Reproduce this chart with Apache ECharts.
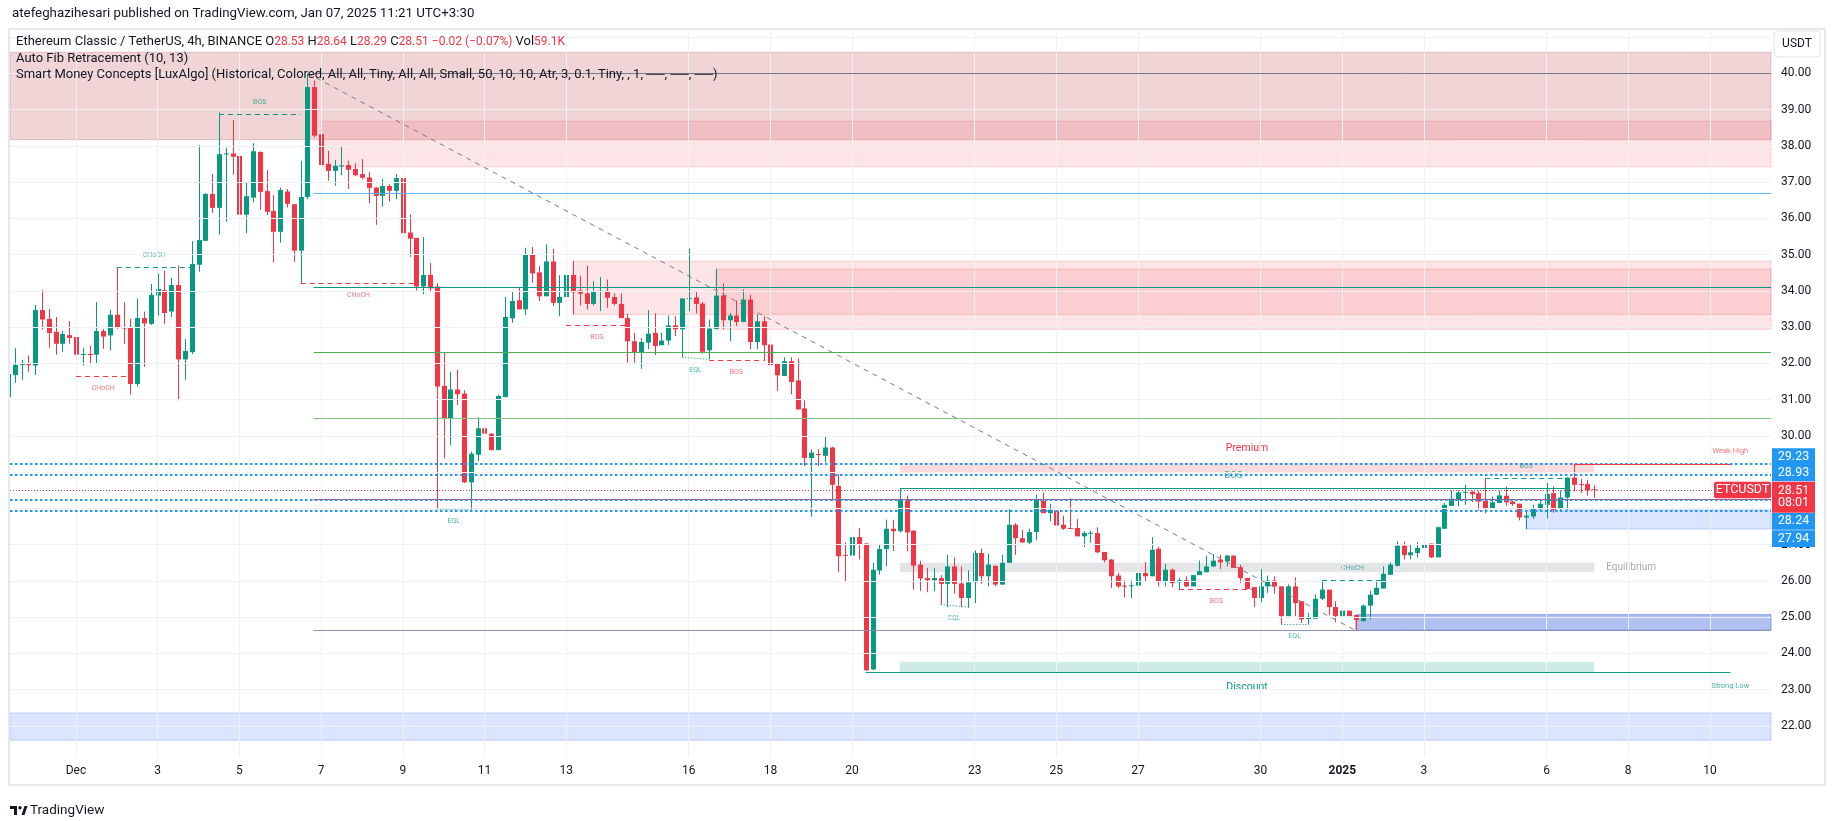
<!DOCTYPE html>
<html>
<head>
<meta charset="utf-8">
<script src="https://cdn.jsdelivr.net/npm/echarts@6/dist/echarts.min.js"></script>
<style>
html,body{margin:0;padding:0;background:#ffffff;}
#chart{width:1835px;height:821px;}
</style>
</head>
<body>
<div id="chart"></div>
<script>
// ================= DATA =================
const BAR_ORIGIN = '2024-12-01T00:00:00Z';   // bar index 0
const BAR_HOURS = 4;
const FIRST_BAR = -10;                       // index of first candle

const opens = [
31.07,31.68,31.96,31.98,31.94,33.47,33.23,32.87,32.54,32.78,
32.73,32.24,32.26,32.24,32.89,32.77,33.34,32.99,32.98,31.43,
33.25,33.09,33.87,34.02,33.43,34.16,32.11,32.31,34.72,35.38,
36.67,36.29,37.77,37.79,37.72,36.10,36.57,37.83,36.75,36.20,
35.63,36.74,36.39,35.11,36.59,39.62,38.32,37.50,37.31,37.44,
37.47,37.36,37.22,37.13,36.85,36.62,36.89,36.76,37.11,35.61,
35.46,34.12,34.44,34.12,31.38,30.49,31.28,31.17,28.72,29.48,
30.21,30.06,29.61,31.07,33.24,33.74,33.49,35.01,34.51,33.85,
34.81,33.67,33.83,34.44,34.01,33.93,33.64,33.99,34.00,33.83,
33.64,33.25,32.61,32.29,32.57,32.84,32.50,32.63,33.05,32.94,
33.79,33.82,33.65,32.36,32.95,33.87,33.19,33.32,33.14,33.76,
32.59,33.16,32.52,31.99,31.65,32.06,31.53,30.76,29.39,29.50,
29.45,29.68,28.62,26.72,26.70,27.21,27.03,23.56,26.29,26.88,
27.44,27.37,28.24,27.39,26.45,26.08,26.02,26.08,25.92,26.40,
25.93,25.53,25.96,26.77,26.13,26.42,25.90,26.50,27.55,27.18,
27.06,27.35,28.21,27.87,27.94,27.55,27.46,27.46,27.23,27.32,
27.32,26.80,26.59,26.15,25.87,25.86,25.87,26.22,26.13,26.89,
25.99,26.31,25.96,26.02,25.85,26.16,26.24,26.40,26.59,26.54,
26.70,26.38,26.08,25.83,25.53,25.85,26.01,25.85,25.03,25.85,
25.44,24.96,24.96,25.51,25.76,25.28,25.03,25.18,25.06,24.89,
25.32,25.62,25.79,26.17,26.42,26.97,26.71,26.77,26.91,27.03,
26.65,27.44,28.07,28.24,28.44,28.46,28.42,28.21,28.01,28.15,
28.35,28.19,28.13,27.75,27.78,27.98,28.10,28.42,28.01,28.30,
28.85,28.67,28.67,28.53];

const highs = [
31.75,32.42,32.10,32.22,33.61,34.02,33.50,33.28,32.89,33.17,
33.17,32.43,32.48,33.69,32.95,33.48,34.65,33.68,33.23,33.79,
33.43,34.19,34.47,34.55,34.36,34.70,32.67,35.37,38.02,36.70,
37.22,38.92,37.95,38.71,37.72,37.00,38.07,37.85,37.33,36.64,
36.84,36.81,36.39,37.58,40.00,39.80,38.72,37.86,37.61,37.99,
37.59,37.52,37.63,37.28,36.85,37.08,36.94,37.22,37.14,36.11,
35.46,35.48,34.77,34.21,32.29,31.76,31.83,31.26,29.57,30.51,
30.43,30.08,31.13,33.83,33.99,34.09,35.19,35.21,34.68,35.28,
35.16,34.43,34.64,34.83,34.42,34.70,34.27,34.38,34.31,33.93,
33.93,33.37,32.84,32.70,33.47,33.38,32.84,33.32,33.30,33.79,
35.17,33.98,33.69,33.21,34.61,34.20,33.39,33.73,34.04,33.89,
33.35,33.30,32.66,32.02,32.17,32.17,32.14,30.98,29.63,29.63,
30.00,29.70,28.95,27.06,27.60,27.46,27.05,26.50,27.00,27.69,
27.69,28.56,28.35,27.39,26.56,26.36,26.36,26.16,26.72,26.65,
26.40,26.29,26.84,26.89,26.75,26.42,26.72,27.98,27.60,27.41,
27.44,28.38,28.44,28.13,27.94,27.80,28.28,27.71,27.37,27.39,
27.48,26.80,26.61,26.22,26.02,26.02,26.50,26.52,27.21,26.94,
26.47,26.34,26.08,26.13,26.17,26.56,26.70,26.74,26.72,26.72,
26.70,26.45,26.08,25.83,26.33,26.15,26.13,25.85,25.90,26.10,
25.44,25.12,25.63,26.02,25.76,25.44,25.30,25.18,25.06,25.35,
25.73,25.99,26.40,26.51,27.09,27.09,27.02,27.07,27.18,27.03,
27.50,28.15,28.50,28.49,28.65,28.49,28.49,28.83,28.33,28.49,
28.61,28.22,28.13,27.96,28.10,28.24,28.70,28.61,28.49,28.86,
29.22,28.81,28.79,28.64];

const lows = [
30.98,31.46,31.55,31.77,31.68,32.93,32.43,32.24,32.32,32.54,
31.65,31.94,32.01,32.01,32.40,32.35,32.95,32.54,31.14,31.36,
31.91,33.06,33.32,33.09,33.28,30.98,31.55,32.26,34.53,35.38,
36.15,35.55,35.91,37.20,35.36,35.59,36.44,36.24,36.09,34.78,
35.33,36.30,34.80,34.22,36.53,38.23,37.43,37.04,36.90,37.19,
36.81,37.16,37.08,36.42,35.82,36.32,36.46,36.53,35.22,34.94,
34.01,33.91,33.96,27.98,29.38,29.74,30.85,28.70,27.96,29.31,
28.87,29.60,29.60,31.07,33.12,33.49,33.33,34.22,33.72,33.85,
33.58,33.30,33.06,33.35,33.60,33.49,33.60,33.44,33.53,33.60,
33.25,32.02,32.02,31.85,32.39,32.23,32.50,32.51,32.75,32.17,
33.44,33.38,32.27,32.11,32.94,32.94,32.61,33.03,33.14,32.39,
32.39,32.06,31.95,31.24,31.65,31.15,30.73,29.17,27.77,29.17,
29.27,28.21,26.24,25.99,26.35,26.59,23.52,23.54,26.17,26.40,
26.82,27.34,26.82,25.76,25.72,25.69,25.72,25.35,25.28,25.65,
25.28,25.26,25.39,25.92,25.85,25.85,25.90,26.50,26.72,27.06,
27.00,27.12,27.87,27.64,27.41,27.41,27.44,27.23,26.94,27.05,
26.77,26.51,25.81,25.81,25.55,25.53,25.78,25.99,26.13,25.85,
25.85,25.83,25.74,25.83,25.85,26.16,26.24,26.38,26.33,26.40,
26.36,25.94,25.78,25.28,25.41,25.67,25.65,24.80,25.03,25.03,
24.84,24.80,24.96,25.47,25.06,24.86,25.03,25.03,24.64,24.89,
24.94,25.62,25.79,26.17,26.40,26.59,26.59,26.65,26.65,26.63,
26.65,27.44,28.07,28.06,28.10,28.17,27.94,27.87,28.01,28.15,
28.07,28.07,27.67,27.43,27.71,27.96,27.72,27.88,27.90,27.96,
28.47,28.42,28.35,28.29];

const closes = [
31.71,31.96,31.98,31.97,33.47,33.21,32.84,32.54,32.81,32.70,
32.24,32.26,32.25,32.89,32.74,33.34,32.98,32.97,31.43,33.25,
33.10,33.89,34.05,33.39,34.16,32.11,32.34,34.74,35.40,36.67,
36.29,37.77,37.79,37.70,36.10,36.61,37.85,36.73,36.18,35.63,
36.78,36.40,35.11,36.59,39.62,38.28,37.47,37.31,37.45,37.46,
37.34,37.19,37.12,36.84,36.62,36.89,36.76,37.11,35.59,35.44,
34.12,34.44,34.07,31.36,30.49,31.28,31.15,28.72,29.51,30.21,
30.06,29.61,31.10,33.28,33.72,33.49,35.01,34.48,33.85,34.81,
33.67,33.83,34.44,33.96,33.92,33.64,33.98,34.00,33.81,33.64,
33.25,32.61,32.31,32.59,32.82,32.48,32.63,33.05,32.94,33.79,
33.80,33.64,32.32,32.96,33.87,33.19,33.32,33.14,33.76,32.59,
33.16,32.50,31.95,31.67,32.06,31.49,30.73,29.39,29.54,29.48,
29.68,28.65,26.68,26.70,27.21,27.00,23.54,26.31,26.88,27.44,
27.37,28.24,27.34,26.42,26.07,26.02,26.08,25.92,26.40,25.92,
25.53,25.96,26.77,26.13,26.45,25.90,26.50,27.55,27.18,27.06,
27.35,28.26,27.87,27.96,27.53,27.44,27.44,27.23,27.32,27.33,
26.79,26.57,26.13,25.85,25.86,25.88,26.22,26.13,26.86,25.99,
26.31,25.94,26.02,25.85,26.16,26.27,26.40,26.56,26.51,26.70,
26.36,26.08,25.78,25.53,25.85,26.01,25.85,25.03,25.85,25.39,
24.94,24.98,25.51,25.76,25.28,25.03,25.18,25.03,24.92,25.32,
25.62,25.81,26.20,26.45,26.97,26.71,26.79,26.91,27.00,26.65,
27.48,28.10,28.27,28.44,28.46,28.39,28.19,28.01,28.17,28.36,
28.17,28.12,27.75,27.80,27.98,28.13,28.40,27.96,28.30,28.85,
28.65,28.66,28.50,28.51];

// axis ticks
const yTicks = [22,23,24,25,26,27,28,29,30,31,32,33,34,35,36,37,38,39,40];
const yGridValues = [22,23,24,25,26,27,28,29,30,31,32,33,34,35,36,37,38,39,40,41];
const xTickDates = ['2024-12-01','2024-12-03','2024-12-05','2024-12-07','2024-12-09','2024-12-11','2024-12-13','2024-12-16','2024-12-18','2024-12-20','2024-12-23','2024-12-25','2024-12-27','2024-12-30','2025-01-01','2025-01-03','2025-01-06','2025-01-08','2025-01-10'];
const xTickLabels = ['Dec','3','5','7','9','11','13','16','18','20','23','25','27','30','2025','3','6','8','10'];

// last price / levels
const symbolName = 'ETCUSDT';
const lastPrice = 28.51;
const countdown = '08:01';
const keyLevels = [29.23, 28.93, 28.24, 27.94];
const priceTags = [29.23, 28.93, 28.51, 28.24, 27.94];

// Auto Fib Retracement
const fibLevels = [40.00, 36.68, 34.11, 32.31, 30.50, 28.26, 24.63];
const fibStartBar = 34.9;
const fibTrend = [[34, 40.00], [188, 24.63]];

// order blocks: [fromBar (null = left edge), toBar (null = right edge), top, bottom, kind]
const zones = [
  [null, null, 40.58, 38.17, 'supplyStrong'],
  [36,   null, 38.68, 37.42, 'supply'],
  [73,   null, 34.82, 33.35, 'supply'],
  [94,   null, 34.60, 32.94, 'supply'],
  [188,  null, 25.07, 24.64, 'demandStrong'],
  [213,  null, 27.96, 27.43, 'demand'],
  [null, null, 22.36, 21.61, 'demand']
];
// premium / equilibrium / discount: [fromBar, toBar, top, bottom, name]
const pdZones = [
  [121, 223, 29.25, 28.97, 'Premium'],
  [121, 223, 26.50, 26.24, 'Equilibrium'],
  [121, 223, 23.77, 23.47, 'Discount']
];
// structure breaks: [fromBar, toBar, price, label, direction (+1 bull, -1 bear), scope]
const structures = [
  [21, 33, 38.88, 'BOS', 1, 'internal'],
  [6, 17, 34.65, 'CHoCH', 1, 'internal'],
  [0, 8, 31.65, 'CHoCH', -1, 'internal'],
  [33, 50, 34.22, 'CHoCH', -1, 'internal'],
  [72, 81, 33.06, 'BOS', -1, 'internal'],
  [93, 101, 32.08, 'BOS', -1, 'internal'],
  [162, 173, 25.76, 'BOS', -1, 'internal'],
  [183, 192, 26.02, 'CHoCH', 1, 'internal'],
  [207, 219, 28.83, 'BOS', 1, 'internal'],
  [121, 219, 28.56, 'BOS', 1, 'swing']
];
// equal lows: [bar1, price1, bar2, price2]
const equalLows = [
  [53, 27.98, 58, 27.96],
  [89, 32.17, 93, 32.11],
  [127, 25.35, 131, 25.28],
  [177, 24.80, 181, 24.80]
];
// strong / weak swing points: [fromBar, toBar, price, label, direction]
const swingPoints = [
  [220, 243, 29.22, 'Weak High', -1],
  [116, 243, 23.47, 'Strong Low', 1]
];

// ================= VIEW / STYLE =================
const X_MIN = -9.69, X_MAX = 248.97;
const Y_MIN = 21.145, Y_MAX = 41.194;
const UP = '#089981', DOWN = '#f23645';
const FONT = 'Roboto, "Liberation Sans", Arial, sans-serif';
const ZONE_STYLE = {
  supplyStrong: {color:'rgba(178,40,51,0.2)', borderColor:'rgba(178,40,51,0.22)'},
  supply:       {color:'rgba(242,54,69,0.13)', borderColor:'rgba(242,54,69,0.2)'},
  demandStrong: {color:'rgba(41,80,220,0.36)', borderColor:'rgba(41,80,220,0.5)'},
  demand:       {color:'rgba(41,98,255,0.17)', borderColor:'rgba(41,98,255,0.25)'},
  Premium:      {color:'rgba(242,54,69,0.18)', borderColor:'rgba(0,0,0,0)'},
  Equilibrium:  {color:'rgba(120,123,134,0.2)', borderColor:'rgba(0,0,0,0)'},
  Discount:     {color:'rgba(8,153,129,0.2)', borderColor:'rgba(0,0,0,0)'}
};
const FIB_COLORS = ['#787b86','#64b5f6','#089981','#4caf50','#81c784','#f23645','#8c92b8'];
const TAG_OFFSETS = [-7.3, -1.9, 0, 21.6, 28.1];

function barOf(d){ return (Date.parse(d + 'T00:00:00Z') - Date.parse(BAR_ORIGIN)) / (BAR_HOURS * 3600000); }
const xTickBars = xTickDates.map(barOf);
const edge = (v, fallback) => (v === null ? fallback : v);

const candleData = opens.map((o, k) => [FIRST_BAR + k, o, closes[k], lows[k], highs[k]]);

// ---- zones as markArea
const areaData = [];
zones.forEach(z => {
  const st = ZONE_STYLE[z[4]];
  areaData.push([{xAxis: edge(z[0], X_MIN), yAxis: z[2], itemStyle:{color: st.color, borderColor: st.borderColor, borderWidth: 1}},
                 {xAxis: edge(z[1], X_MAX), yAxis: z[3]}]);
});
pdZones.forEach(z => {
  const st = ZONE_STYLE[z[4]];
  areaData.push([{xAxis: z[0], yAxis: z[2], itemStyle:{color: st.color, borderWidth: 0}},
                 {xAxis: z[1], yAxis: z[3]}]);
});

// ---- lines as markLine
const lineData = [];
function seg(x1, y1, x2, y2, style){ lineData.push([{coord:[x1, y1], lineStyle: style}, {coord:[x2, y2]}]); }
fibLevels.forEach((p, k) => seg(fibStartBar, p, X_MAX, p, {color: FIB_COLORS[k], width: 1, type: 'solid'}));
seg(fibTrend[0][0], fibTrend[0][1], fibTrend[1][0], fibTrend[1][1], {color:'#787b86', width:1, type:[5,5]});
keyLevels.forEach(p => seg(X_MIN, p, X_MAX, p, {color:'#2196f3', width:2, type:[2.5,2.5]}));
seg(X_MIN, lastPrice, X_MAX, lastPrice, {color: DOWN, width:1, type:[1,2]});
structures.forEach(s => {
  const col = s[4] > 0 ? UP : DOWN;
  seg(s[0], s[2], s[1], s[2], {color: col, width: 1, type: s[5] === 'swing' ? 'solid' : [5,4]});
});
equalLows.forEach(e => seg(e[0], e[1], e[2], e[3], {color: 'rgba(8,153,129,0.7)', width: 1, type: [1.5,1.5]}));
swingPoints.forEach(s => seg(s[0], s[2], s[1], s[2], {color: s[4] > 0 ? UP : DOWN, width: 1, type:'solid'}));

// ---- annotation texts
const ann = [];
structures.forEach(s => {
  const swing = s[5] === 'swing';
  ann.push({x:(s[0]+s[1])/2, y:s[2], text:s[3], color: s[4] > 0 ? 'rgba(8,153,129,0.75)' : 'rgba(242,54,69,0.7)',
            size: swing ? 9.5 : 7, dy: s[4] > 0 ? -12 : 12, dx:0, align:'center'});
});
equalLows.forEach(e => ann.push({x:(e[0]+e[2])/2, y:(e[1]+e[3])/2, text:'EQL', color:'rgba(8,153,129,0.75)', size:7, dy:12, dx:0, align:'center'}));
swingPoints.forEach(s => ann.push({x:s[1], y:s[2], text:s[3], color: s[4] > 0 ? 'rgba(8,153,129,0.75)' : 'rgba(242,54,69,0.7)', size:7.5, dy: s[4] > 0 ? 13 : -12.6, dx:0, align:'center'}));
pdZones.forEach(z => {
  if (z[4] === 'Premium') ann.push({x:(z[0]+z[1])/2, y:z[2], text:z[4], color:'#f23645', size:10.5, dy:-15, dx:0, align:'center'});
  if (z[4] === 'Discount') ann.push({x:(z[0]+z[1])/2, y:z[3], text:z[4], color:'#089981', size:10.5, dy:14.5, dx:0, align:'center'});
  if (z[4] === 'Equilibrium') ann.push({x:z[1], y:(z[2]+z[3])/2, text:z[4], color:'#a6a9b2', size:10, dy:0, dx:12, align:'left'});
});

const chart = echarts.init(document.getElementById('chart'), null, {renderer:'canvas'});

const option = {
  animation: false,
  backgroundColor: '#ffffff',
  textStyle: {fontFamily: FONT},
  grid: {left: 10, right: 64, top: 30, bottom: 64, containLabel: false},
  xAxis: {
    type: 'value', min: X_MIN, max: X_MAX,
    axisLine: {show: false}, axisTick: {show: false}, splitLine: {show: false},
    axisLabel: {
      customValues: xTickBars, margin: 8, fontSize: 12, color: '#131722', fontFamily: FONT,
      formatter: v => {
        const k = xTickBars.findIndex(b => Math.abs(b - v) < 0.01);
        if (k < 0) return '';
        const t = xTickLabels[k];
        return t === '2025' ? '{b|' + t + '}' : t;
      },
      rich: {b: {fontWeight: 'bold', fontSize: 12, color: '#131722', fontFamily: FONT}}
    }
  },
  yAxis: {
    type: 'value', position: 'right', min: Y_MIN, max: Y_MAX,
    axisLine: {show: false}, axisTick: {show: false}, splitLine: {show: false},
    axisLabel: {customValues: yTicks, margin: 10, fontSize: 12, color: '#131722', fontFamily: FONT,
                formatter: v => Number(v).toFixed(2)}
  },
  series: [
    { // grid lines
      type: 'line', data: [], z: 0, silent: true,
      markLine: {silent: true, symbol: 'none', animation: false, label: {show: false},
        lineStyle: {color: '#eff1f5', width: 1, type: 'solid'},
        data: yGridValues.map(v => ({yAxis: v})).concat(xTickBars.map(b => ({xAxis: b})))}
    },
    { // zones
      type: 'line', data: [], z: 1, silent: true,
      markArea: {silent: true, animation: false, label: {show: false}, data: areaData}
    },
    { // lines
      type: 'line', data: [], z: 2, silent: true,
      markLine: {silent: true, symbol: 'none', animation: false, label: {show: false}, data: lineData}
    },
    { // candles
      type: 'custom', z: 3, clip: true, silent: true,
      data: candleData,
      encode: {x: 0, y: [1, 2, 3, 4]},
      renderItem: function (params, api) {
        const x = api.value(0), o = api.value(1), c = api.value(2), l = api.value(3), h = api.value(4);
        const pO = api.coord([x, o]), pC = api.coord([x, c]);
        const pL = api.coord([x, l]), pH = api.coord([x, h]);
        const col = c >= o ? UP : DOWN;
        const xc = Math.round(pO[0]);
        const top = Math.min(pO[1], pC[1]);
        const ht = Math.max(Math.abs(pO[1] - pC[1]), 1);
        return {type: 'group', children: [
          {type: 'line', shape: {x1: xc + 0.5, y1: pH[1], x2: xc + 0.5, y2: pL[1]}, style: {stroke: col, lineWidth: 1}},
          {type: 'rect', shape: {x: xc - 2, y: top, width: 5, height: ht}, style: {fill: col}}
        ]};
      }
    },
    { // annotation texts
      type: 'custom', z: 4, clip: false, silent: true,
      data: ann.map((a, k) => [a.x, a.y, k]),
      encode: {x: 0, y: 1},
      renderItem: function (params, api) {
        const a = ann[api.value(2)];
        const p = api.coord([api.value(0), api.value(1)]);
        return {type: 'text', x: p[0] + a.dx, y: p[1] + a.dy,
          style: {text: a.text, fill: a.color, font: a.size + 'px ' + FONT, align: a.align, verticalAlign: 'middle'}};
      }
    },
    { // price tags on the axis
      type: 'custom', z: 6, clip: false, silent: true,
      data: priceTags.map((p, k) => [X_MAX, p, k]),
      encode: {x: 0, y: 1},
      renderItem: function (params, api) {
        const k = api.value(2), price = api.value(1);
        const p = api.coord([X_MAX, price]);
        const x0 = p[0] + 1, cy = p[1] + TAG_OFFSETS[k];
        const w = 43;
        if (price === lastPrice) {
          return {type: 'group', children: [
            {type: 'rect', shape: {x: p[0] - 57, y: cy - 8.3, width: 57, height: 16.6, r: 2}, style: {fill: DOWN}},
            {type: 'text', x: p[0] - 28.5, y: cy + 0.3, style: {text: symbolName, fill: '#fff', font: '12.5px ' + FONT, align: 'center', verticalAlign: 'middle'}},
            {type: 'rect', shape: {x: x0, y: cy - 8.3, width: w, height: 31}, style: {fill: DOWN}},
            {type: 'text', x: x0 + w / 2, y: cy + 0.7, style: {text: price.toFixed(2), fill: '#fff', font: '12.5px ' + FONT, align: 'center', verticalAlign: 'middle'}},
            {type: 'text', x: x0 + w / 2, y: cy + 13.3, style: {text: countdown, fill: '#fff', font: '12.5px ' + FONT, align: 'center', verticalAlign: 'middle'}}
          ]};
        }
        return {type: 'group', children: [
          {type: 'rect', shape: {x: x0, y: cy - 8.4, width: w, height: 16.8}, style: {fill: '#2196f3'}},
          {type: 'text', x: x0 + w / 2, y: cy, style: {text: price.toFixed(2), fill: '#fff', font: '12.5px ' + FONT, align: 'center', verticalAlign: 'middle'}}
        ]};
      }
    }
  ],
  graphic: [
    {type: 'text', z: 100, x: 12, y: 14, style: {text: 'atefeghazihesari published on TradingView.com, Jan 07, 2025 11:21 UTC+3:30', fill: '#131722', font: '13.3px ' + FONT, verticalAlign: 'middle'}},
    {type: 'rect', z: 100, shape: {x: 9, y: 29, width: 1816, height: 756}, style: {fill: 'none', stroke: '#e6e8ee', lineWidth: 2}, silent: true},
    {type: 'text', z: 100, x: 16, y: 42, style: {
      text: '{n|Ethereum Classic / TetherUS, 4h, BINANCE} {n|O}{v|28.53} {n|H}{v|28.64} {n|L}{v|28.29} {n|C}{v|28.51} {v|−0.02 (−0.07%)} {n|Vol}{v|59.1K}',
      verticalAlign: 'middle', font: '12.5px ' + FONT,
      rich: {n: {fill: '#131722', font: '13px ' + FONT}, v: {fill: '#f23645', font: '12px ' + FONT}}}},
    {type: 'text', z: 100, x: 16, y: 58.5, style: {text: 'Auto Fib Retracement (10, 13)', fill: '#131722', font: '13px ' + FONT, verticalAlign: 'middle'}},
    {type: 'text', z: 100, x: 16, y: 75, style: {text: 'Smart Money Concepts [LuxAlgo] (Historical, Colored, All, All, Tiny, All, All, Small, 50, 10, 10, Atr, 3, 0.1, Tiny, , 1, ──, ──, ──)', fill: '#131722', font: '13px ' + FONT, verticalAlign: 'middle'}},
    {type: 'rect', z: 100, shape: {x: 1774, y: 31, width: 46, height: 26, r: 4}, style: {fill: '#ffffff', stroke: '#e0e3eb', lineWidth: 1}},
    {type: 'text', z: 101, x: 1797, y: 44, style: {text: 'USDT', fill: '#131722', font: '12px ' + FONT, align: 'center', verticalAlign: 'middle'}},
    // TradingView logo
    {type: 'rect', shape: {x: 10, y: 806, width: 7, height: 3}, style: {fill: '#131722'}},
    {type: 'rect', shape: {x: 14, y: 806, width: 3, height: 9}, style: {fill: '#131722'}},
    {type: 'circle', shape: {cx: 20, cy: 807.7, r: 1.7}, style: {fill: '#131722'}},
    {type: 'polygon', shape: {points: [[21.5, 815], [24.5, 806], [27.5, 806], [24.5, 815]]}, style: {fill: '#131722'}},
    {type: 'text', x: 30, y: 811, style: {text: 'TradingView', fill: '#131722', font: '13.5px ' + FONT, verticalAlign: 'middle'}}
  ]
};
chart.setOption(option);
</script>
</body>
</html>
